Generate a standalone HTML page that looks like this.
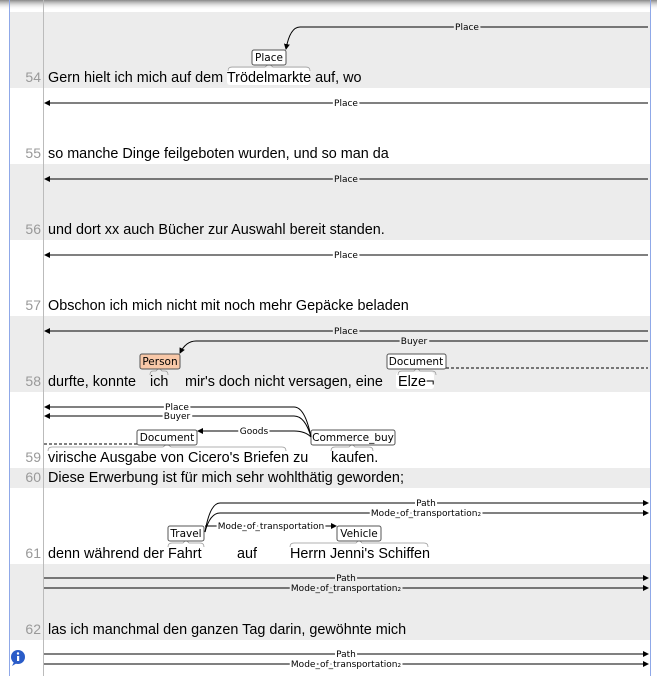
<!DOCTYPE html>
<html><head><meta charset="utf-8"><style>
body{margin:0;width:657px;height:676px;overflow:hidden;background:#fff}
svg{display:block}
.t{font-family:"Liberation Sans",sans-serif;font-size:14.4px;fill:#000}
.n{font-family:"Liberation Sans",sans-serif;font-size:14px;fill:#999;text-anchor:end}
.l{font-family:"DejaVu Sans",sans-serif;font-size:9px;fill:#000;text-anchor:middle;paint-order:stroke;stroke-width:4px}
.w{stroke:#fff}.g{stroke:#ececec}
.b{font-family:"DejaVu Sans",sans-serif;font-size:10.5px;fill:#000;text-anchor:middle}
.ln{stroke:#000;stroke-width:1;fill:none}
</style></head><body>
<svg width="657" height="676" viewBox="0 0 657 676" xmlns="http://www.w3.org/2000/svg">
<defs>
<marker id="a" markerWidth="6" markerHeight="6" refX="5" refY="3" orient="auto"><path d="M0,0 L6,3 L0,6z" fill="#000"/></marker>
<linearGradient id="sh" x1="0" y1="0" x2="0" y2="1"><stop offset="0" stop-color="#888"/><stop offset="1" stop-color="#fff" stop-opacity="0"/></linearGradient>
</defs>
<rect x="10" y="12" width="640" height="76" fill="#ececec"/>
<rect x="10" y="164" width="640" height="76" fill="#ececec"/>
<rect x="10" y="316" width="640" height="76" fill="#ececec"/>
<rect x="10" y="468" width="640" height="20" fill="#ececec"/>
<rect x="10" y="564" width="640" height="76" fill="#ececec"/>
<rect x="0" y="0" width="657" height="10" fill="url(#sh)"/>
<line x1="9.5" y1="0" x2="9.5" y2="676" stroke="#8fa8e8"/>
<line x1="650.5" y1="0" x2="650.5" y2="676" stroke="#8fa8e8"/>
<line x1="43.5" y1="0" x2="43.5" y2="676" stroke="#bbb"/>

<rect x="227" y="68" width="83" height="17" rx="3" fill="#fff"/>
<rect x="396" y="372" width="38" height="17" rx="3" fill="#fff"/>

<text class="n" x="41" y="82">54</text><text class="t" x="48" y="82">Gern hielt ich mich auf dem Trödelmarkte auf, wo</text>
<text class="n" x="41" y="158">55</text><text class="t" x="48" y="158">so manche Dinge feilgeboten wurden, und so man da</text>
<text class="n" x="41" y="234">56</text><text class="t" x="48" y="234">und dort xx auch Bücher zur Auswahl bereit standen.</text>
<text class="n" x="41" y="310">57</text><text class="t" x="48" y="310">Obschon ich mich nicht mit noch mehr Gepäcke beladen</text>
<text class="n" x="41" y="386">58</text><text class="t" x="48" y="386">durfte, konnte</text><text class="t" x="150" y="386">ich</text><text class="t" x="185" y="386">mir's doch nicht versagen, eine</text><text class="t" x="398" y="386">Elze¬</text>
<text class="n" x="41" y="462">59</text><text class="t" x="48" y="462">virische Ausgabe von Cicero's Briefen zu</text><text class="t" x="331" y="462">kaufen.</text>
<text class="n" x="41" y="482">60</text><text class="t" x="48" y="482">Diese Erwerbung ist für mich sehr wohlthätig geworden;</text>
<text class="n" x="41" y="558">61</text><text class="t" x="48" y="558">denn während der</text><text class="t" x="168" y="558">Fahrt</text><text class="t" x="237" y="558">auf</text><text class="t" x="290" y="558">Herrn Jenni's Schiffen</text>
<text class="n" x="41" y="634">62</text><text class="t" x="48" y="634">las ich manchmal den ganzen Tag darin, gewöhnte mich</text>

<g stroke="#999" fill="none" stroke-width="0.8">
<path d="M228,71 q0,-4 4,-4 h33 l4,-3 l4,3 h33 q4,0 4,4"/>
<path d="M150,375 q0,-4 3,-4 h3 l3,-3 l3,3 h3 q3,0 3,4"/>
<path d="M398,375 q0,-4 4,-4 h12 l3,-3 l3,3 h12 q4,0 4,4"/>
<path d="M48,451 q0,-4 4,-4 h111 l4,-3 l4,3 h111 q4,0 4,4"/>
<path d="M331,451 q0,-4 4,-4 h14 l3,-3 l3,3 h14 q4,0 4,4"/>
<path d="M168,547 q0,-4 4,-4 h11 l3,-3 l3,3 h11 q4,0 4,4"/>
<path d="M290,547 q0,-4 4,-4 h62 l3,-3 l3,3 h62 q4,0 4,4"/>
</g>

<rect x="252" y="50" width="34" height="15" rx="2" fill="#fff" stroke="#555"/><text class="b" x="269" y="61">Place</text>
<rect x="140" y="354" width="40" height="15" rx="2" fill="#f8c8a8" stroke="#555"/><text class="b" x="160" y="365">Person</text>
<rect x="387" y="354" width="59" height="15" rx="2" fill="#fff" stroke="#555"/><text class="b" x="416" y="365">Document</text>
<rect x="137" y="430" width="60" height="15" rx="2" fill="#fff" stroke="#555"/><text class="b" x="167" y="441">Document</text>
<rect x="311" y="430" width="84" height="15" rx="2" fill="#fff" stroke="#555"/><text class="b" x="353" y="441">Commerce_buy</text>
<rect x="168" y="526" width="36" height="15" rx="2" fill="#fff" stroke="#555"/><text class="b" x="186" y="537">Travel</text>
<rect x="337" y="526" width="44" height="15" rx="2" fill="#fff" stroke="#555"/><text class="b" x="359" y="537">Vehicle</text>

<g class="ln">
<path d="M648,27 H300 Q290,27 286,49" marker-end="url(#a)"/>
<path d="M648,103 H45" marker-end="url(#a)"/>
<path d="M648,179 H45" marker-end="url(#a)"/>
<path d="M648,255 H45" marker-end="url(#a)"/>
<path d="M648,331 H45" marker-end="url(#a)"/>
<path d="M648,341 H196 Q186,341 180,353" marker-end="url(#a)"/>
<path d="M446,368 H648" stroke-dasharray="3,2"/>
<path d="M44,444 H137" stroke-dasharray="3,2"/>
<path d="M311,437 Q305,407 294,407 H45" marker-end="url(#a)"/>
<path d="M311,437 Q305,416 294,416 H45" marker-end="url(#a)"/>
<path d="M311,437 Q305,431 294,431 H198" marker-end="url(#a)"/>
<path d="M205,532 Q210,503 220,503 H648" marker-end="url(#a)"/>
<path d="M205,532 Q210,513 220,513 H648" marker-end="url(#a)"/>
<path d="M205,526 H336" marker-end="url(#a)"/>
<path d="M44,578 H648" marker-end="url(#a)"/>
<path d="M44,588 H648" marker-end="url(#a)"/>
<path d="M44,654 H648" marker-end="url(#a)"/>
<path d="M44,664 H648" marker-end="url(#a)"/>
</g>

<g>
<text class="l g" x="467" y="30">Place</text>
<text class="l w" x="346" y="106">Place</text>
<text class="l g" x="346" y="182">Place</text>
<text class="l w" x="346" y="258">Place</text>
<text class="l g" x="346" y="334">Place</text>
<text class="l g" x="414" y="344">Buyer</text>
<text class="l w" x="177" y="410">Place</text>
<text class="l w" x="177" y="419">Buyer</text>
<text class="l w" x="254" y="434">Goods</text>
<text class="l w" x="426" y="506">Path</text>
<text class="l w" x="426" y="516">Mode_of_transportation₂</text>
<text class="l w" x="271" y="529">Mode_of_transportation</text>
<text class="l g" x="346" y="581">Path</text>
<text class="l g" x="346" y="591">Mode_of_transportation₂</text>
<text class="l w" x="346" y="657">Path</text>
<text class="l w" x="346" y="667">Mode_of_transportation₂</text>
</g>

<circle cx="18" cy="657" r="7" fill="#2a5cc8"/>
<path d="M14,662 l-2,4 l5,-3z" fill="#2a5cc8"/>
<circle cx="18" cy="653.5" r="1.2" fill="#fff"/>
<rect x="17" y="656" width="2.2" height="5" fill="#fff"/>
</svg>
</body></html>
